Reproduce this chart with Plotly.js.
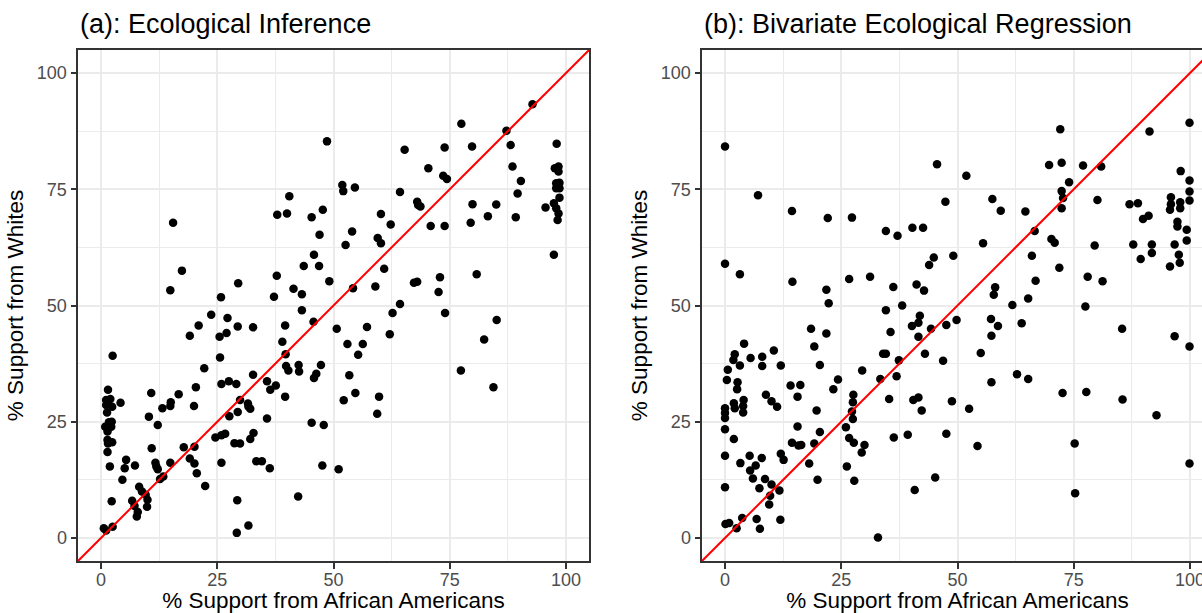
<!DOCTYPE html>
<html>
<head>
<meta charset="utf-8">
<script src="https://cdn.plot.ly/plotly-3.0.1.min.js"></script>
<style>
html,body{margin:0;padding:0;overflow:hidden;background:#fff;}
#chart{width:1214px;height:613px;}
</style>
</head>
<body>
<div id="chart"></div>
<script>
// (a) Ecological Inference: % support from African Americans (x) vs Whites (y)
const eiX = [48.6,40.5,37.9,40.0,45.3,47.7,47.0,15.5,17.4,14.9,45.8,43.6,46.9,37.8,29.5,25.8,37.2,41.4,43.2,49.1,43.2,
92.8,87.2,77.5,65.3,73.9,79.8,88.1,98.0,70.4,73.6,74.4,88.5,90.3,89.6,89.2,97.6,98.4,98.4,97.9,98.6,97.9,98.6,98.6,97.4,95.6,97.9,98.4,98.2,97.4,
51.9,52.1,54.6,64.3,68.0,68.7,68.2,79.9,85.0,83.2,79.5,60.2,62.3,70.9,73.9,54.0,52.6,59.5,60.2,60.9,54.2,59.0,67.3,68.0,72.9,72.6,80.8,64.3,
23.7,27.2,21.0,19.1,25.5,27.0,29.4,32.7,39.6,45.7,50.7,39.0,39.7,25.6,2.5,22.2,32.7,39.8,40.3,42.5,42.6,47.3,46.3,45.8,
25.9,27.5,29.1,35.7,36.4,37.6,39.6,29.9,31.6,32.1,31.7,29.4,27.6,35.7,45.3,47.9,24.6,25.9,26.7,28.7,29.9,32.1,32.8,
33.4,34.6,36.3,25.9,47.6,51.1,42.4,29.3,31.7,29.2,17.8,20.1,19.1,20.1,20.6,22.4,20.4,20.0,16.7,15.0,14.9,13.2,10.8,10.3,12.2,10.9,
14.9,11.7,11.9,12.2,12.7,13.4,8.2,8.8,9.6,10.0,9.9,6.7,7.2,7.9,7.7,5.4,5.1,7.3,4.6,2.3,0.6,1.1,2.5,1.9,1.4,
1.5,1.1,2.0,2.4,1.1,4.2,1.3,1.7,2.3,0.9,2.2,1.4,1.4,2.4,1.5,
62.7,74.0,85.1,57.2,53.0,56.3,55.3,62.1,82.4,77.4,84.4,53.4,54.7,52.2,59.8,59.4];
const eiY = [85.3,73.5,69.5,69.8,69.0,70.6,65.2,67.8,57.5,53.3,60.9,58.5,58.5,56.4,54.8,51.8,51.9,53.6,52.4,55.2,49.0,
93.3,87.6,89.1,83.5,84.0,84.2,84.5,84.8,79.5,77.9,77.2,79.9,76.8,74.1,69.0,79.5,79.9,78.8,76.3,76.4,75.2,75.2,73.2,72.0,71.1,70.9,69.8,68.4,60.9,
75.9,74.6,75.4,74.4,72.3,71.3,71.6,71.8,71.7,69.2,67.8,69.7,67.4,67.1,67.1,65.9,63.0,64.5,63.4,57.9,53.7,54.1,54.9,55.1,56.1,52.9,56.7,50.3,
48.0,47.3,45.7,43.5,43.3,44.1,45.5,45.3,45.7,46.5,45.0,42.2,39.5,38.8,39.2,36.5,35.1,37.0,36.0,37.2,35.8,37.2,35.3,34.4,
33.1,33.7,33.1,33.7,31.9,32.8,30.4,29.7,28.9,27.8,28.3,27.1,26.2,25.7,24.8,24.3,21.6,22.1,22.4,20.4,20.3,21.3,22.6,
16.5,16.5,15.0,16.2,15.6,14.8,8.9,8.1,2.7,1.1,19.5,19.6,17.1,16.0,13.9,11.2,32.4,28.4,30.9,29.2,28.4,27.9,31.2,26.1,24.3,19.3,
16.2,16.2,15.4,14.8,12.7,13.2,11.0,10.0,9.3,8.2,6.7,8.0,6.9,5.6,4.6,16.8,15.0,15.6,12.5,7.9,2.1,1.6,2.4,15.4,18.5,
31.9,29.7,29.9,28.2,28.6,29.1,27.0,24.9,25.0,23.9,23.9,22.9,21.1,20.6,20.3,
48.4,48.4,46.9,45.4,41.7,41.7,39.4,43.8,42.7,36.0,32.4,35.0,31.2,29.6,30.4,26.7];

// (b) Bivariate Ecological Regression
const berX = [0.0,7.1,14.4,22.1,27.3,34.6,37.1,40.3,42.6,45.6,47.4,0.0,3.2,14.5,21.8,22.3,26.7,31.2,36.2,38.1,34.6,41.2,42.8,44.9,43.9,
99.9,91.3,72.1,69.7,72.4,77.0,80.9,74.0,72.4,72.7,72.4,51.9,57.5,59.3,64.6,80.1,98.0,99.9,99.9,99.9,87.0,88.8,95.9,95.9,95.7,97.9,97.9,
89.9,91.1,97.3,97.3,99.3,99.3,96.7,97.6,97.8,95.7,87.8,91.8,91.8,89.4,55.5,49.1,66.6,70.2,70.9,79.5,66.0,71.9,78.0,81.2,66.8,58.1,57.8,65.2,61.8,77.5,
41.9,41.6,40.2,44.3,47.6,35.6,41.6,18.5,21.8,19.2,20.4,4.1,2.1,1.8,3.2,5.5,8.0,8.0,10.5,12.0,0.6,0.4,2.7,2.6,1.9,2.1,4.0,3.9,3.9,
0.0,0.0,0.0,0.0,1.9,0.0,0.0,0.1,0.9,2.5,3.7,6.8,7.5,11.9,3.3,5.3,7.9,6.6,5.4,6.0,8.6,7.4,10.0,9.7,9.5,11.7,12.0,12.6,
8.8,10.0,11.2,14.1,16.2,15.6,15.6,14.4,15.8,16.4,19.7,20.4,19.2,18.1,19.9,24.3,23.3,29.5,27.6,27.5,27.3,27.5,26.0,26.7,27.7,30.0,29.4,26.2,27.8,
33.4,34.0,34.6,37.4,36.9,35.3,36.3,40.5,41.6,42.3,43.0,46.9,39.3,40.8,45.2,32.9,47.6,
49.8,57.2,58.7,57.3,63.8,85.4,96.7,99.9,55.0,62.8,65.2,57.3,72.6,77.7,85.5,92.8,48.8,52.5,54.3,75.2,99.9,75.3];
const berY = [84.2,73.7,70.3,68.8,68.9,66.0,65.0,66.7,66.7,80.4,72.3,59.0,56.7,55.1,53.4,50.5,55.7,56.2,54.0,50.0,49.0,54.5,53.2,60.3,58.7,
89.3,87.4,87.9,80.2,80.7,80.1,79.9,76.5,74.6,73.1,70.9,77.9,72.9,70.4,70.2,72.7,78.9,76.9,74.5,72.6,71.8,72.0,73.3,71.8,70.6,72.2,70.9,
68.6,69.3,68.0,67.0,66.3,64.0,63.1,60.9,59.2,58.4,63.1,63.1,61.3,60.0,63.4,60.7,66.0,64.3,63.5,62.9,60.7,58.1,56.2,55.2,55.3,53.9,52.3,51.5,50.1,49.8,
47.8,46.3,45.6,45.0,45.8,44.3,43.3,45.0,44.0,41.2,37.2,41.8,39.5,38.3,37.1,38.7,39.0,37.0,40.3,37.1,36.2,34.0,33.5,32.0,29.0,27.9,29.7,28.4,27.0,
27.9,26.9,25.8,23.4,21.3,17.7,10.9,3.0,3.2,2.1,4.3,4.1,2.0,3.9,16.1,17.7,17.2,15.6,14.5,12.8,12.7,10.7,11.5,9.1,7.2,10.2,18.1,16.8,
30.8,29.4,28.2,32.8,32.9,30.4,24.0,20.5,19.9,20.0,27.4,22.8,20.3,16.0,12.5,34.1,32.0,36.0,30.8,29.2,27.2,25.6,23.8,21.5,20.5,20.0,18.4,15.4,12.3,
34.2,39.6,39.6,38.2,34.8,29.9,21.6,29.7,30.2,27.4,39.6,38.1,22.2,10.3,13.0,0.1,22.4,
46.9,47.1,45.6,43.5,46.2,45.0,43.4,41.2,39.8,35.2,34.2,33.5,31.2,31.4,29.8,26.4,29.4,27.8,19.8,20.3,16.0,9.6];

const tickVals = [0, 25, 50, 75, 100];
const tickText = ["0", "25", "50", "75", "100"];
const panelTitles = ["(a): Ecological Inference", "(b): Bivariate Ecological Regression"];
const xTitle = "% Support from African Americans";
const yTitle = "% Support from Whites";
const refLine = [-10, 120];

const FONT = '"Liberation Sans", Arial, Helvetica, sans-serif';
const W = 1214, H = 613;

function pts(x, y, xa, ya) {
  return {type: 'scatter', mode: 'markers', x: x, y: y, xaxis: xa, yaxis: ya,
    marker: {color: '#000000', size: 8.5, line: {width: 0}}, hoverinfo: 'x+y'};
}
function diag(xa, ya) {
  return {type: 'scatter', mode: 'lines', x: refLine, y: refLine, xaxis: xa, yaxis: ya,
    line: {color: '#FF0000', width: 2}, hoverinfo: 'skip'};
}

function axisBase(isX) {
  return {
    range: [-4.95, 104.95],
    tickvals: tickVals, ticktext: tickText,
    ticks: 'outside', ticklen: 5.5, tickwidth: 2, tickcolor: '#333333',
    tickfont: {family: FONT, size: 18, color: '#4D4D4D'},
    ticklabelstandoff: isX ? -4 : 0,
    showgrid: true, gridcolor: '#EBEBEB', gridwidth: 2,
    minor: {dtick: 12.5, tick0: 0, showgrid: true, gridcolor: '#EBEBEB', gridwidth: 1, ticks: ''},
    zeroline: false,
    showline: true, mirror: true, linecolor: '#333333', linewidth: 2,
    fixedrange: true,
    title: {text: isX ? xTitle : yTitle, font: {family: FONT, size: 22.5, color: '#000000'},
            standoff: isX ? 10 : 7}
  };
}

const yDom = [1 - 561 / H, 1 - 50 / H];
const layout = {
  width: W, height: H,
  margin: {l: 0, r: 0, t: 0, b: 0},
  paper_bgcolor: '#FFFFFF', plot_bgcolor: '#FFFFFF',
  showlegend: false,
  xaxis: Object.assign(axisBase(true), {domain: [78 / W, 589 / W], anchor: 'y'}),
  yaxis: Object.assign(axisBase(false), {domain: yDom, anchor: 'x'}),
  xaxis2: Object.assign(axisBase(true), {domain: [702 / W, 1213 / W], anchor: 'y2'}),
  yaxis2: Object.assign(axisBase(false), {domain: yDom, anchor: 'x2'}),
  annotations: [
    {text: panelTitles[0], xref: 'paper', yref: 'paper', x: 78 / W, y: 1 - 24 / H,
     xanchor: 'left', yanchor: 'middle', showarrow: false,
     font: {family: FONT, size: 27, color: '#000000'}},
    {text: panelTitles[1], xref: 'paper', yref: 'paper', x: 702 / W, y: 1 - 24 / H,
     xanchor: 'left', yanchor: 'middle', showarrow: false,
     font: {family: FONT, size: 27, color: '#000000'}}
  ]
};

const data = [
  pts(eiX, eiY, 'x', 'y'), diag('x', 'y'),
  pts(berX, berY, 'x2', 'y2'), diag('x2', 'y2')
];

Plotly.newPlot('chart', data, layout, {displayModeBar: false, staticPlot: true});
</script>
</body>
</html>
